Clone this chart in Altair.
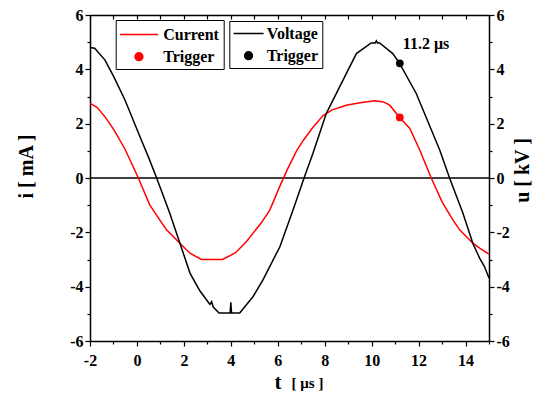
import altair as alt
import pandas as pd

# ---- data ----
t_current = [-2.0, -1.7, -1.36, -1.0, -0.5, 0.06, 0.55, 1.0, 1.26, 1.83, 2.26, 2.75, 3.65, 4.2,
             4.67, 4.95, 5.3, 5.66, 6.09, 6.4, 6.8, 7.1, 7.5, 7.93, 8.3, 8.92, 9.5, 10.13, 10.5,
             10.77, 11.19, 11.62, 12.04, 12.54, 13.0, 13.46, 13.74, 14.31, 14.6, 15.0]
i_current = [2.75, 2.6, 2.25, 1.8, 1.05, 0.0, -1.0, -1.58, -1.91, -2.4, -2.77, -3.0, -3.0, -2.75,
             -2.34, -2.03, -1.65, -1.18, -0.3, 0.3, 1.0, 1.4, 1.87, 2.3, 2.5, 2.68, 2.77, 2.84, 2.8,
             2.68, 2.23, 1.83, 1.05, 0.0, -0.88, -1.54, -1.9, -2.4, -2.58, -2.8]

t_voltage = [-2.0, -1.8, -1.36, -1.0, -0.51, 0.13, 0.5, 0.84, 1.4, 1.83, 2.26, 2.68, 3.11, 3.18,
             3.25, 3.5, 3.97, 4.0, 4.03, 4.38, 4.95, 5.37, 6.09, 6.65, 7.12, 7.5, 8.07, 8.78, 9.35,
             9.98, 10.15, 10.2, 10.25, 10.34, 10.9, 11.19, 11.9, 12.9, 13.32, 13.89, 14.31, 14.6,
             14.8, 15.0]
u_voltage = [4.8, 4.78, 4.34, 3.75, 2.87, 1.52, 0.75, 0.0, -1.3, -2.4, -3.5, -4.15, -4.65, -4.55,
             -4.75, -4.97, -4.97, -4.58, -4.97, -4.97, -4.36, -3.75, -2.53, -1.18, 0.0, 0.91, 2.38,
             3.6, 4.58, 4.97, 4.97, 5.05, 4.97, 4.97, 4.58, 4.22, 3.11, 1.03, 0.0, -1.3, -2.4, -2.95,
             -3.25, -3.68]

trigger_t = [11.2]
trigger_i = [2.23]
trigger_u = [4.22]
trigger_label = ["11.2 μs"]
zero_level = [0]
x_ticks = list(range(-2, 16))
y_ticks = list(range(-6, 7))

cur_df = pd.DataFrame({"t": t_current, "v": i_current, "s": "Current"})
vol_df = pd.DataFrame({"t": t_voltage, "v": u_voltage, "s": "Voltage"})
ctrig = pd.DataFrame({"t": trigger_t, "v": trigger_i, "s": "Trigger"})
vtrig = pd.DataFrame({"t": trigger_t, "v": trigger_u, "s": "Trigger", "label": trigger_label})
zero_df = pd.DataFrame({"v": zero_level})

FONT = "Liberation Serif"
xscale = alt.Scale(domain=[-2, 15], nice=False, zero=False)
yscale = alt.Scale(domain=[-6, 6], nice=False)

tick_len = {"condition": {"test": "datum.value % 2 === 0", "value": 5}, "value": 3}
even_label = "datum.value % 2 === 0 ? '' + datum.value : ''"

common_axis = dict(labelFont=FONT, labelFontWeight="bold", labelFontSize=16, labelColor="black",
                   titleFont=FONT, titleFontWeight="bold", titleColor="black",
                   domainColor="black", domainWidth=1.5, tickColor="black", tickWidth=1.2,
                   grid=False, labelOverlap=False, labelFlush=False)

x_bottom = alt.Axis(values=x_ticks, labelExpr=even_label, tickSize=tick_len, labelPadding=6,
                    title="t", titleFontSize=21, titleX=187.5, titleY=47, titleAlign="center",
                    titleBaseline="alphabetic", **common_axis)
x_top = alt.Axis(orient="top", values=x_ticks, labels=False, tickSize={"expr": "-4"},
                 title="[  μs  ]", titleFontSize=15, titleX=217, titleY=372,
                 titleAlign="center", titleBaseline="alphabetic", **common_axis)
y_left = alt.Axis(values=y_ticks, labelExpr=even_label, tickSize=tick_len, labelPadding=2,
                  title="i [ mA ]", titleFontSize=20, titleAngle=270, titleX=-64, titleY=151,
                  titleAlign="center", titleBaseline="middle", **common_axis)
y_right = alt.Axis(orient="right", values=y_ticks, labelExpr=even_label, tickSize=tick_len,
                   labelPadding=2, title="u [ kV ]", titleFontSize=20, titleAngle=270,
                   titleX=33, titleY=155, titleAlign="center", titleBaseline="middle",
                   **common_axis)

leg_common = dict(title=None, orient="none", direction="vertical", labelFont=FONT,
                  labelFontSize=16, labelFontWeight="bold", labelColor="black",
                  strokeColor="black", fillColor="white", padding=4, rowPadding=5.7,
                  symbolStrokeWidth=1.5)
leg_cur = alt.Legend(legendX=25.7, legendY=5, symbolStrokeColor="red", symbolOffset=8.75,
                     labelOffset=13.75, **leg_common)
leg_vol = alt.Legend(legendX=139.3, legendY=6, symbolStrokeColor="black", symbolOffset=6.75,
                     labelOffset=9.75, **leg_common)

cur_dom = ["Current", "Trigger"]
vol_dom = ["Voltage", "Trigger"]
LINE_SYMBOL = "M-2,0L2,0"

X_b = alt.X("t:Q", scale=xscale, axis=x_bottom)
X_t = alt.X("t:Q", scale=xscale, axis=x_top)
Y_l = alt.Y("v:Q", scale=yscale, axis=y_left)
Y_r = alt.Y("v:Q", scale=yscale, axis=y_right)

cur_color = alt.Color("s:N", scale=alt.Scale(domain=cur_dom, range=["red", "red"]), legend=leg_cur)
cur_shape = alt.Shape("s:N", scale=alt.Scale(domain=cur_dom, range=[LINE_SYMBOL, "circle"]), legend=leg_cur)
cur_size = alt.Size("s:O", scale=alt.Scale(domain=cur_dom, range=[361, 60]), legend=leg_cur)

vol_color = alt.Color("s:N", scale=alt.Scale(domain=vol_dom, range=["black", "black"]), legend=leg_vol)
vol_shape = alt.Shape("s:N", scale=alt.Scale(domain=vol_dom, range=[LINE_SYMBOL, "circle"]), legend=leg_vol)
vol_size = alt.Size("s:O", scale=alt.Scale(domain=vol_dom, range=[225, 60]), legend=leg_vol)

zero_rule = alt.Chart(zero_df).mark_rule(color="black", strokeWidth=1.4).encode(
    y=alt.Y("v:Q", scale=yscale, axis=y_left))
cur_line = alt.Chart(cur_df).mark_line(strokeWidth=1.5).encode(x=X_b, y=Y_l, color=cur_color)
cur_pt = alt.Chart(ctrig).mark_point(filled=True, opacity=1).encode(
    x=X_b, y=Y_l, color=cur_color, shape=cur_shape, size=cur_size)
current = alt.layer(zero_rule, cur_line, cur_pt)

vol_line = alt.Chart(vol_df).mark_line(strokeWidth=1.5).encode(x=X_t, y=Y_r, color=vol_color)
vol_pt = alt.Chart(vtrig).mark_point(filled=True, opacity=1).encode(
    x=X_t, y=Y_r, color=vol_color, shape=vol_shape, size=vol_size)
vol_txt = alt.Chart(vtrig).mark_text(font=FONT, fontSize=16, fontWeight="bold", align="left",
                                     dx=3, dy=-19, color="black").encode(x=X_t, y=Y_r, text="label:N")
voltage = alt.layer(vol_line, vol_pt, vol_txt)

chart = alt.layer(current, voltage).resolve_scale(
    x="independent", y="independent", color="independent", shape="independent", size="independent"
).properties(
    width=399, height=326,
    autosize=alt.AutoSizeParams(type="none"),
    padding={"left": 82, "top": 7, "right": 44, "bottom": 52},
    background="white",
).configure_view(stroke=None)

chart.save("out.html", embed_options={"renderer": "svg", "actions": False})
